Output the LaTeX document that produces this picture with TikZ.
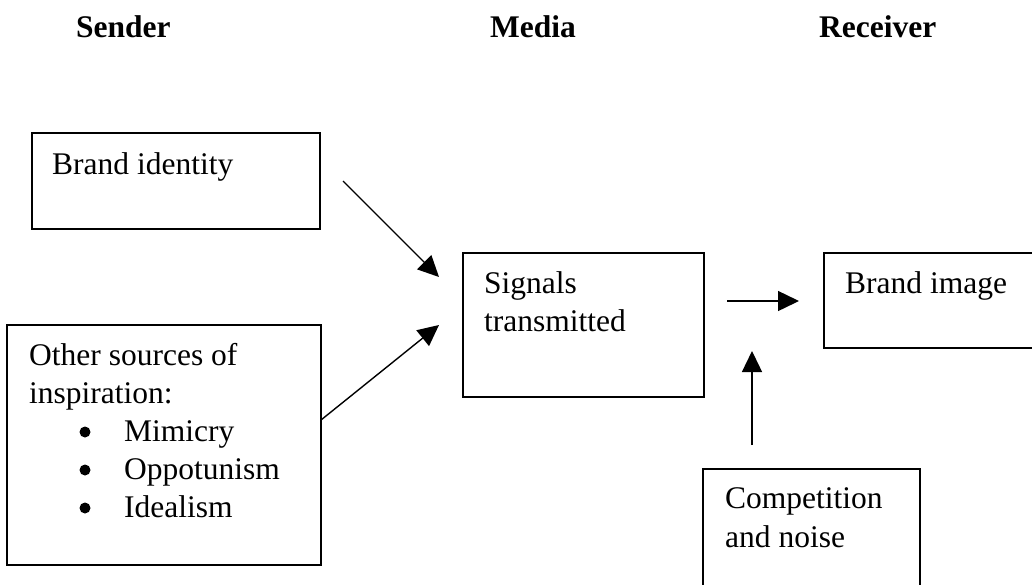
\documentclass[tikz,border=0pt]{standalone}
\usepackage{fontspec}
\setmainfont{Liberation Serif}
\usetikzlibrary{arrows.meta}
\begin{document}
\begin{tikzpicture}[x=1pt,y=-1pt,
  box/.style={draw=black,line width=1.6pt,anchor=north west,inner sep=0pt,outer sep=0pt},
  txt/.style={anchor=base west,inner sep=0pt,font=\fontsize{31.5}{38}\selectfont},
  head/.style={anchor=base west,inner sep=0pt,font=\fontsize{31.5}{38}\selectfont\bfseries},
  dot/.style={circle,fill=black,inner sep=0pt,minimum size=11pt},
  conn/.style={line width=1.4pt,-{Triangle[length=21pt,width=20pt]}}]
\useasboundingbox (0,0) rectangle (1032,584);

% column headings
\node[head] (hsend) at (76,37) {Sender};
\node[head] (hmedia) at (490,37) {Media};
\node[head] (hrecv) at (819,37) {Receiver};

% boxes
\node[box,minimum width=288pt,minimum height=96pt] (bid) at (32,133) {};
\node[box,minimum width=314pt,minimum height=240pt] (oth) at (7,325) {};
\node[box,minimum width=241pt,minimum height=144pt] (sig) at (463,253) {};
\node[box,minimum width=230pt,minimum height=95pt] (bimg) at (824,253) {};
\node[box,minimum width=217pt,minimum height=140pt] (comp) at (703,469) {};

% box texts
\node[txt] (tbid) at (52,174) {Brand identity};
\node[txt] (toth1) at (29,365) {Other sources of};
\node[txt] (toth2) at (29,403) {inspiration:};
\node[dot] (b1) at (85,432) {};
\node[dot] (b2) at (85,470) {};
\node[dot] (b3) at (85,508) {};
\node[txt] (i1) at (124,441) {Mimicry};
\node[txt] (i2) at (124,479) {Oppotunism};
\node[txt] (i3) at (124,517) {Idealism};
\node[txt] (tsig1) at (484,293) {Signals};
\node[txt] (tsig2) at (484,331) {transmitted};
\node[txt] (tbimg) at (845,293) {Brand image};
\node[txt] (tcomp1) at (725,508) {Competition};
\node[txt] (tcomp2) at (725,547) {and noise};

% connector ends
\coordinate (a1s) at (343,181);
\coordinate (a1e) at (439,277);
\coordinate (a2s) at (321,420);
\coordinate (a2e) at (439,325);
\coordinate (a3s) at (727,301);
\coordinate (a3e) at (799,301);
\coordinate (a4s) at (752,445);
\coordinate (a4e) at (752,351);

\draw[conn] (a1s) -- (a1e);
\draw[conn] (a2s) -- (a2e);
\draw[conn] (a3s) -- (a3e);
\draw[conn] (a4s) -- (a4e);
\end{tikzpicture}
\end{document}
